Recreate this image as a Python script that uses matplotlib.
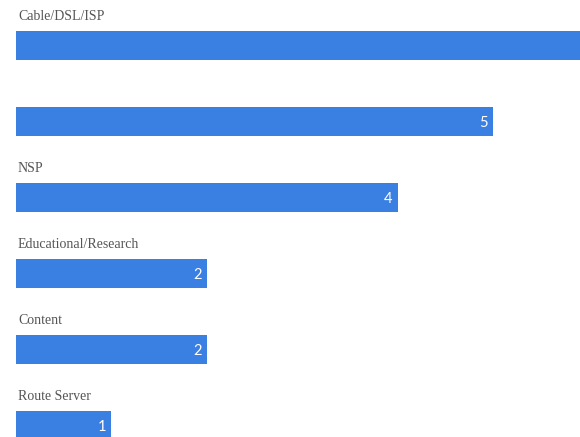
import matplotlib
matplotlib.use("Agg")
import matplotlib.pyplot as plt

categories = ["Cable/DSL/ISP", "", "NSP", "Educational/Research", "Content", "Route Server"]
counts = [6, 5, 4, 2, 2, 1]

bar_color = "#3a80e2"

fig = plt.figure(figsize=(5.8, 4.37), dpi=100)
ax = fig.add_axes([0, 0, 1, 1])

pos = list(range(len(categories)))
ax.barh(pos, counts, height=0.38, color=bar_color, edgecolor="none")

for i, (name, v) in enumerate(zip(categories, counts)):
    ax.text(0.02, i - 0.335, name, family="Liberation Serif", fontsize=10,
            color="#555555", va="baseline", ha="left")
    ax.annotate(str(v), xy=(v, i), xytext=(-3.5, -1), textcoords="offset points",
                ha="right", va="center", color="white", fontsize=10.5,
                family="Lato")

ax.set_xlim(-0.168, 5.912)
ax.set_ylim(5.151, -0.599)
ax.axis("off")

fig.savefig("out.png", dpi=100)
